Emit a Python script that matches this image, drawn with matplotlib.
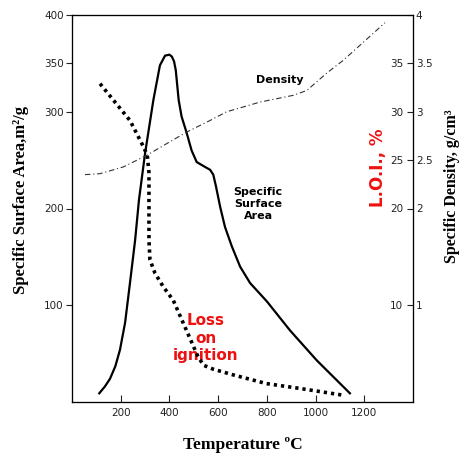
import numpy as np
import matplotlib.pyplot as plt

# температура, °C
t_ssa = [112, 135, 156, 178, 197, 218, 238, 259, 275, 300, 334, 361, 382, 400, 410, 419,
         426, 431, 438, 450, 471, 491, 512, 539, 567, 580, 591, 608, 628, 656, 690, 731,
         800, 895, 1005, 1073, 1141]
ssa = [9, 16, 24, 37, 54, 82, 123, 167, 209, 257, 312, 348, 358, 359, 357, 352,
       343, 330, 312, 295, 278, 260, 248, 244, 240, 235, 223, 202, 181, 161, 140, 123,
       104, 74, 43, 26, 9]

t_loi = [115, 170, 238, 293, 309, 316, 316, 316, 320, 341, 375, 416, 517, 540, 579,
         662, 799, 936, 1114]
loi = [32.9, 31.2, 29.1, 26.4, 25.5, 23.7, 20.0, 16.7, 14.7, 13.3, 11.9, 10.5, 4.7,
       3.8, 3.4, 2.8, 1.9, 1.4, 0.7]

t_dens = [53, 115, 211, 307, 402, 471, 567, 635, 772, 909, 964, 1046, 1113, 1285]
dens = [2.35, 2.36, 2.43, 2.55, 2.69, 2.79, 2.91, 3.00, 3.10, 3.17, 3.22, 3.40, 3.53, 3.92]

x_ticks = [200, 400, 600, 800, 1000, 1200]
ssa_ticks = [100, 200, 300, 350, 400]
loi_ticks = [10, 20, 25, 30, 35]
dens_ticks = [1, 2, 2.5, 3, 3.5, 4]
dens_labels = ['1', '2', '2.5', '3', '3.5', '4']

fig = plt.figure(figsize=(4.74, 4.66), dpi=100)
ax = fig.add_axes([72 / 474, 64 / 466, 341 / 474, 387 / 466])

ax.plot(t_ssa, ssa, '-', color='black', lw=1.6, solid_joinstyle='round')
ax.set_xlim(0, 1400)
ax.set_ylim(0, 400)
ax.set_xticks(x_ticks)
ax.set_yticks(ssa_ticks)
ax.tick_params(axis='x', direction='in', length=5, pad=4, labelsize=7.5, colors='#222222')
ax.tick_params(axis='y', direction='out', length=4, pad=2, labelsize=7.5, colors='#222222')

# L.O.I. шкала (мітки зліва від правої осі)
ax3 = ax.twinx()
ax3.plot(t_loi, loi, color='black', lw=2.6, linestyle=(0, (0.9, 1.1)))
ax3.set_ylim(0, 40)
ax3.set_yticks(loi_ticks)
ax3.tick_params(axis='y', direction='in', length=0, pad=-7, labelsize=7.5, colors='#222222')
for lb in ax3.get_yticklabels():
    lb.set_horizontalalignment('right')

# густина
ax2 = ax.twinx()
ax2.plot(t_dens, dens, color='#333333', lw=0.8, dashes=(5, 2.5, 1, 2.5))
ax2.set_ylim(0, 4)
ax2.set_yticks(dens_ticks)
ax2.set_yticklabels(dens_labels)
ax2.tick_params(axis='y', direction='in', length=4, pad=2, labelsize=7.5, colors='#222222')

ax.text(854, 333, 'Density', fontsize=8, fontweight='bold', ha='center', va='center')
ax.text(764, 205, 'Specific\nSurface\nArea', fontsize=8, fontweight='bold',
        ha='center', va='center', linespacing=1.25)
ax.text(550, 66, 'Loss\non\nignition', fontsize=11, fontweight='bold', color='#ee1111',
        ha='center', va='center', linespacing=1.2)

fig.text(0.044, 0.571, 'Specific Surface Area,m\u00b2/g', rotation=90, ha='center', va='center',
         fontsize=12, fontweight='bold', family='Liberation Serif')
fig.text(0.953, 0.60, 'Specific Density, g/cm\u00b3', rotation=90, ha='center', va='center',
         fontsize=11.5, fontweight='bold', family='Liberation Serif')
fig.text(0.512, 0.045, 'Temperature \u00baC', ha='center', va='center',
         fontsize=12.5, fontweight='bold', family='Liberation Serif')
fig.text(0.797, 0.639, 'L.O.I., %', rotation=90, ha='center', va='center',
         fontsize=12, fontweight='bold', color='#ee1111')

fig.savefig('out.png', dpi=100)
